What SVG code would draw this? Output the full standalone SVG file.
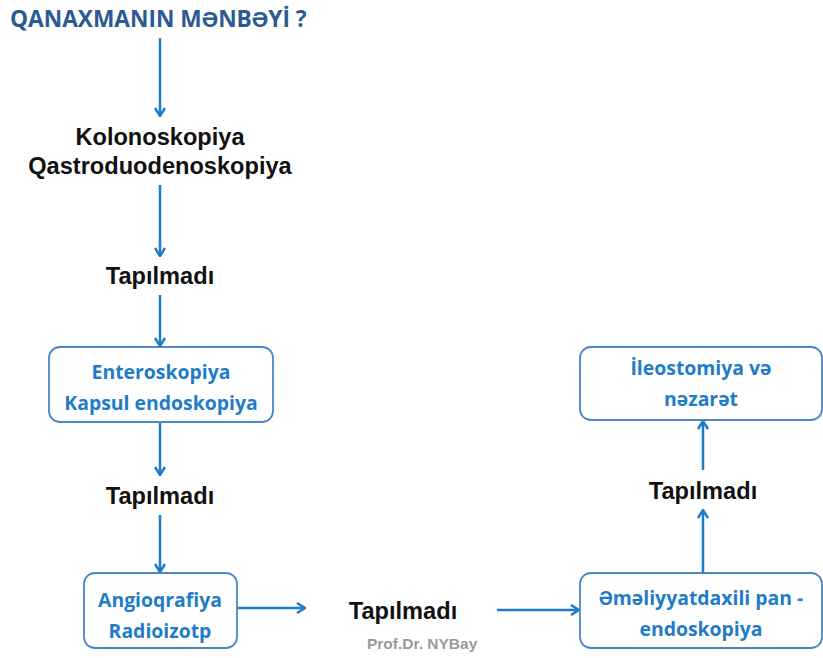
<svg xmlns="http://www.w3.org/2000/svg" width="823" height="658" viewBox="0 0 823 658">
<style>
.title{font-family:"Open Sans","Liberation Sans",sans-serif;font-weight:bold;font-size:22.7px;fill:#2b5a94}
.blk{font-family:"Liberation Sans",Arial,sans-serif;font-weight:bold;font-size:23.6px;fill:#111;text-anchor:middle}
.bt{font-family:"Open Sans","Liberation Sans",sans-serif;font-weight:bold;font-size:19.4px;fill:#1f7cc8;text-anchor:middle}
.box{fill:#fff;stroke:#4a86c8;stroke-width:1.8}
.ln{stroke:#1f7cc8;stroke-width:2.5;fill:none;marker-end:url(#ah)}
.sig{font-family:"Liberation Sans",Arial,sans-serif;font-weight:bold;font-size:15.5px;fill:#9a9a9a}
</style>
<defs>
<marker id="ah" viewBox="0 0 10 12" refX="9" refY="6" markerWidth="10" markerHeight="12" markerUnits="userSpaceOnUse" orient="auto">
<path d="M1,1 L9,6 L1,11" fill="none" stroke="#1f7cc8" stroke-width="2.5" stroke-linejoin="miter"/>
</marker>
</defs>
<rect width="823" height="658" fill="#fff"/>
<g id="connectors">
<line class="ln" x1="160" y1="38" x2="160" y2="116"/>
<line class="ln" x1="160" y1="185" x2="160" y2="256"/>
<line class="ln" x1="160" y1="295" x2="160" y2="346"/>
<line class="ln" x1="160" y1="422" x2="160" y2="475"/>
<line class="ln" x1="160" y1="515" x2="160" y2="572"/>
<line class="ln" x1="237" y1="608" x2="305" y2="608"/>
<line class="ln" x1="497" y1="610" x2="579" y2="610"/>
<line class="ln" x1="703" y1="573" x2="703" y2="510"/>
<line class="ln" x1="703" y1="470" x2="703" y2="421"/>
</g>
<g id="title"><text class="title" x="10" y="27">QANAXMANIN MƏNBƏYİ ?</text></g>
<g id="kolon"><text class="blk" x="160" y="145">Kolonoskopiya</text><text class="blk" x="160" y="174">Qastroduodenoskopiya</text></g>
<g id="t1"><text class="blk" x="160" y="284">Tapılmadı</text></g>
<g id="entero"><rect class="box" x="49" y="347" width="224" height="75" rx="11"/><text class="bt" x="161" y="379">Enteroskopiya</text><text class="bt" x="161" y="410">Kapsul endoskopiya</text></g>
<g id="t2"><text class="blk" x="160" y="504">Tapılmadı</text></g>
<g id="angio"><rect class="box" x="84" y="573" width="153" height="75" rx="11"/><text class="bt" x="160" y="607">Angioqrafiya</text><text class="bt" x="160" y="638">Radioizotp</text></g>
<g id="t3"><text class="blk" x="403" y="619">Tapılmadı</text></g>
<g id="sig"><text class="sig" x="367" y="649">Prof.Dr. NYBay</text></g>
<g id="emel"><rect class="box" x="580" y="573" width="242" height="75" rx="11"/><text class="bt" x="701" y="605">Əməliyyatdaxili pan -</text><text class="bt" x="701" y="636">endoskopiya</text></g>
<g id="t4"><text class="blk" x="703" y="499">Tapılmadı</text></g>
<g id="ileo"><rect class="box" x="580" y="347" width="242" height="73" rx="11"/><text class="bt" x="701" y="375">İleostomiya və</text><text class="bt" x="701" y="406">nəzarət</text></g>
</svg>
